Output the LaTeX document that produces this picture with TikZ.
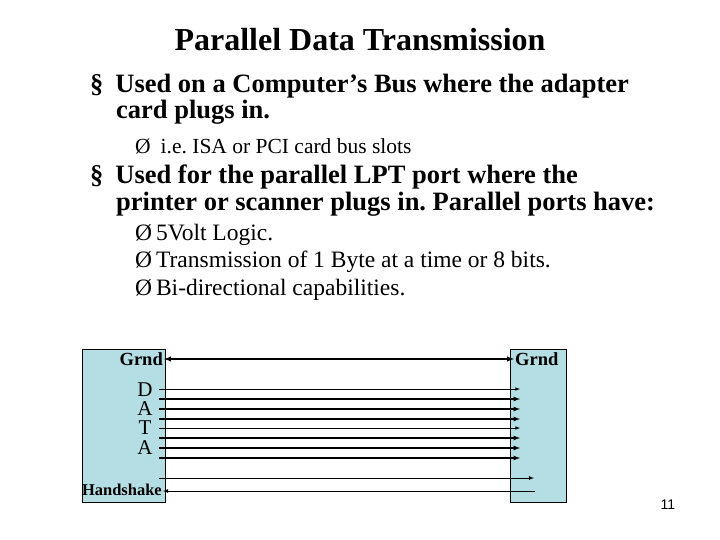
\documentclass[tikz,border=0pt]{standalone}
\usepackage{fontspec}
\setmainfont{Liberation Serif}
\newfontfamily\arialf{Liberation Sans}
\frenchspacing
\begin{document}
\begin{tikzpicture}[x=1pt,y=-1pt,
  txt/.style={anchor=west,inner sep=0pt},
  bfb/.style={txt,font=\fontsize{26.5}{28}\selectfont\bfseries},
  sub/.style={txt,font=\fontsize{23.5}{25}\selectfont},
  box/.style={draw=black,fill={rgb,255:red,180;green,222;blue,228},line width=0.6pt},
  lbl/.style={font=\fontsize{18.5}{20}\selectfont\bfseries,inner sep=1pt},
  wire/.style={-latex,line width=1pt}]
\useasboundingbox (0,0) rectangle (720,540);
\node[font=\fontsize{32}{34}\selectfont\bfseries] (title) at (360,40) {Parallel Data Transmission};
\node[bfb] (b1a) at (90,86) {§\hspace{12pt}Used on a Computer’s Bus where the adapter};
\node[bfb] (b1b) at (116,112) {card plugs in.};
\node[sub,font=\fontsize{21.5}{23}\selectfont] (s1) at (135,146) {Ø\hspace{10pt}i.e. ISA or PCI card bus slots};
\node[bfb] (b2a) at (90,177) {§\hspace{12pt}Used for the parallel LPT port where the};
\node[bfb] (b2b) at (116,204) {printer or scanner plugs in. Parallel ports have:};
\node[sub] (s2) at (135,235) {Ø\,5Volt Logic.};
\node[sub] (s3) at (135,262) {Ø\,Transmission of 1 Byte at a time or 8 bits.};
\node[sub] (s4) at (135,290) {Ø\,Bi-directional capabilities.};
\path[box] (82,349) rectangle (165,502);
\path[box] (510,349) rectangle (566,502);
\node[lbl,anchor=east] (gl) at (164,359) {Grnd};
\node[lbl,anchor=west] (gr) at (514,359) {Grnd};
\draw[latex-latex,line width=1.4pt] (gl.east) -- (gr.west);
\foreach \t/\y in {D/390,A/409,T/428,A/448}{\node[lbl,font=\fontsize{21}{22}\selectfont] at (145,\y) {\t};}
\foreach \y/\w in {389/0.6,399/1.2,409/1.2,419/1.2,428/0.6,438/1.2,448/1.2,458/1.2}{
  \coordinate (l\y) at (159,\y); \coordinate (r\y) at (520,\y);
  \draw[wire,line width=\w pt] (l\y) -- (r\y);}
\node[lbl,anchor=east,font=\fontsize{16.5}{18}\selectfont\bfseries] (hs) at (163,490) {Handshake};
\coordinate (h1l) at (159,478); \coordinate (h1r) at (534,478);
\coordinate (h2r) at (535,491);
\draw[wire,line width=0.8pt] (h1l) -- (h1r);
\draw[wire,line width=0.8pt] (h2r) -- (hs.east |- h2r);
\node[font=\arialf\fontsize{14}{16}\selectfont] (pg) at (668,505) {11};
\end{tikzpicture}
\end{document}
